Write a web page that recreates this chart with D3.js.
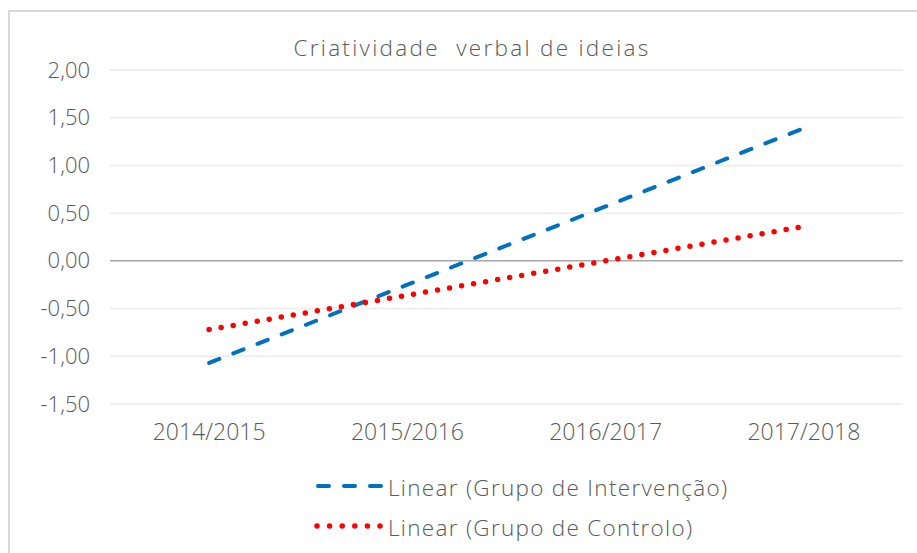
<!DOCTYPE html>
<html lang="pt">
<head>
    <meta charset="UTF-8">
    <title>Criatividade verbal de ideias</title>
    <script src="https://d3js.org/d3.v7.min.js"></script>
    <style>
        body { margin: 0; background: #fff; }
        svg { display: block; }
        text { font-family: "Open Sans", Lato, sans-serif; fill: #595959; font-weight: 300; }
    </style>
</head>
<body>
    <svg id="chart" width="917" height="553"></svg>

    <script>
        // data (linear trend lines)
        const categories = ["2014/2015", "2015/2016", "2016/2017", "2017/2018"];
        const intervencao = [-1.07, -0.25, 0.57, 1.39];
        const controlo = [-0.72, -0.36, 0.00, 0.36];
        const yTicks = [-1.5, -1.0, -0.5, 0, 0.5, 1.0, 1.5, 2.0];
        const seriesNames = ["Linear (Grupo de Intervenção)", "Linear (Grupo de Controlo)"];

        const svg = d3.select("#chart");
        const fmt = d3.formatLocale({ decimal: ",", thousands: ".", grouping: [3], currency: ["", "€"], minus: "-" }).format(".2f");

        // outer chart frame (right and bottom edges are cut off)
        svg.append("rect")
            .attr("x", 9).attr("y", 11)
            .attr("width", 940).attr("height", 600)
            .attr("fill", "#fff")
            .attr("stroke", "#d9d9d9")
            .attr("stroke-width", 2);

        const x = d3.scaleBand().domain(categories).range([110, 903]);
        const y = d3.scaleLinear().domain([-1.5, 2]).range([404, 70]);
        const cx = c => x(c) + x.bandwidth() / 2;

        // gridlines
        svg.append("g").selectAll("line")
            .data(yTicks.filter(d => d !== 0))
            .enter().append("line")
            .attr("x1", 110).attr("x2", 903)
            .attr("y1", d => y(d)).attr("y2", d => y(d))
            .attr("stroke", "#efefef")
            .attr("stroke-width", 2);

        svg.append("line")
            .attr("x1", 110).attr("x2", 903)
            .attr("y1", y(0)).attr("y2", y(0))
            .attr("stroke", "#a6a6a6")
            .attr("stroke-width", 1.5);

        // y axis labels
        const yAxis = svg.append("g")
            .attr("transform", "translate(110,0)")
            .call(d3.axisLeft(y).tickValues(yTicks).tickFormat(fmt).tickSize(0).tickPadding(20));
        yAxis.select(".domain").remove();
        yAxis.selectAll("text").style("font-size", "22px").style("fill", "#595959").style("font-family", "'Open Sans', sans-serif");

        // x axis labels
        const xAxis = svg.append("g")
            .attr("transform", `translate(0,${y(-1.5)})`)
            .call(d3.axisBottom(x).tickSize(0).tickPadding(20));
        xAxis.select(".domain").remove();
        xAxis.selectAll("text").style("font-size", "23px").style("fill", "#595959").style("font-family", "'Open Sans', sans-serif");

        // title
        svg.append("text")
            .attr("x", 472).attr("y", 47)
            .attr("text-anchor", "middle")
            .attr("dominant-baseline", "central")
            .attr("xml:space", "preserve")
            .style("font-size", "22.5px")
            .style("letter-spacing", "2.3px")
            .text("Criatividade  verbal de ideias");

        const line = d3.line()
            .x((d, i) => cx(categories[i]))
            .y(d => y(d));

        svg.append("path")
            .datum(intervencao)
            .attr("d", line)
            .attr("fill", "none")
            .attr("stroke", "#0070c0")
            .attr("stroke-width", 4)
            .attr("stroke-linecap", "round")
            .attr("stroke-dasharray", "11,15");

        svg.append("path")
            .datum(controlo)
            .attr("d", line)
            .attr("fill", "none")
            .attr("stroke", "#ff0000")
            .attr("stroke-width", 5.5)
            .attr("stroke-linecap", "round")
            .attr("stroke-dasharray", "0,12.2");

        // legend
        const legend = [
            { name: seriesNames[0], color: "#0070c0", width: 4, dash: "11,15", x1: 318, y: 486 },
            { name: seriesNames[1], color: "#ff0000", width: 5.5, dash: "0,12.6", x1: 317, y: 526 }
        ];
        const lg = svg.append("g").selectAll("g").data(legend).enter().append("g");
        lg.append("line")
            .attr("x1", d => d.x1).attr("x2", 383)
            .attr("y1", d => d.y).attr("y2", d => d.y)
            .attr("stroke", d => d.color)
            .attr("stroke-width", d => d.width)
            .attr("stroke-linecap", "round")
            .attr("stroke-dasharray", d => d.dash);
        lg.append("text")
            .attr("x", 388)
            .attr("y", d => d.y + 1)
            .attr("dominant-baseline", "central")
            .style("font-size", "22.5px")
            .style("letter-spacing", "1.3px")
            .text(d => d.name);
    </script>
</body>
</html>
